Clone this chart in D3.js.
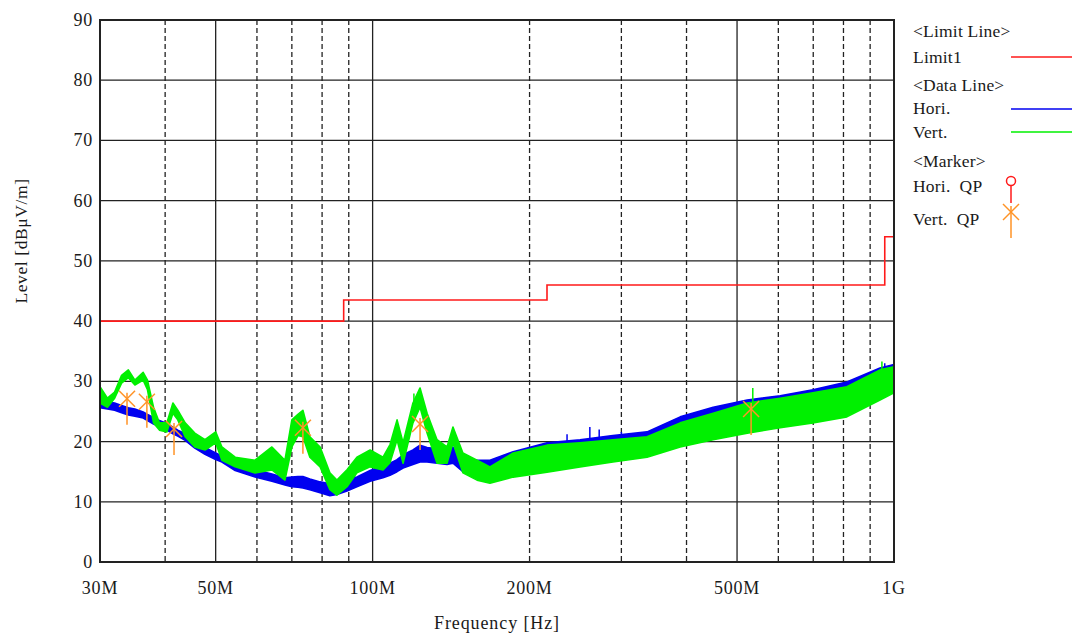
<!DOCTYPE html>
<html><head><meta charset="utf-8">
<script src="https://cdn.jsdelivr.net/npm/d3@7"></script>
<style>body{margin:0;background:#fff}svg{display:block}text{font-family:"Liberation Serif","Times New Roman",serif;fill:#1a1a1a}</style>
</head><body>
<script>
// ---- data (MHz, dBµV/m) ----
const freqs = [30,31,32,33,34,35,36.3,37,38,39,40.3,41.4,42.3,43.7,45.6,47.7,50,51.4,54.5,59.5,64.1,67.9,70,71.9,73.5,75.8,79.3,82.8,85.4,89.3,93.3,98.9,104.7,108,111.4,114.4,119.5,123.3,127.2,132.9,138.9,142.6,149,158.6,167.9,186,216,250,289,336,389,450,523,605,699,812,940,1000];
const horiLo = [25.6,25.4,25.2,24.8,24.4,24.2,23.9,23.5,22.9,22.5,21.9,21.3,20.9,20.2,18.9,17.9,17.0,16.6,15.2,14.1,13.4,12.8,12.5,12.4,12.3,12.0,11.5,11.0,11.2,11.8,12.5,13.4,14.0,14.4,15.0,15.6,16.2,16.6,16.6,16.4,16.2,16.4,15.0,14.1,14.1,15.0,16.0,17.0,18.0,19.0,21.5,23.0,24.5,25.5,26.5,27.5,29.5,30.5];
const horiHi = [26.9,26.6,26.4,26.0,25.6,25.4,24.9,24.5,24.0,23.5,23.0,22.4,21.9,21.3,20.0,19.0,18.1,17.6,16.4,15.3,14.6,14.0,14.1,14.2,14.2,13.8,13.3,13.0,13.4,13.8,14.1,15.2,16.0,16.4,17.0,17.8,18.6,19.4,19.0,18.8,18.6,19.1,17.4,16.9,16.9,18.3,19.8,20.3,21.0,21.6,24.1,25.7,26.9,27.6,28.6,29.9,32.2,32.8];
const vertLo = [26.4,25.7,27.2,29.7,30.6,29.4,30.2,28.6,23.1,21.9,21.6,24.7,23.6,20.8,19.1,18.6,19.8,16.9,15.8,14.8,15.3,13.6,19.1,21.0,20.8,17.4,15.8,12.0,11.1,12.5,14.8,15.8,15.3,16.5,20.3,16.4,23.1,25.7,21.4,16.4,16.4,19.8,14.8,13.6,13.1,14.1,14.9,15.8,16.6,17.4,19.1,20.3,21.4,22.3,23.1,24.1,26.9,28.1];
const vertHi = [29.1,27.2,28.2,31.0,31.9,30.2,31.5,30.2,25.7,23.1,23.1,26.4,25.2,23.1,21.4,20.3,21.6,19.1,17.4,16.9,19.1,16.9,23.6,24.5,25.2,20.8,19.1,14.8,13.6,15.3,17.4,18.6,17.4,19.5,23.6,19.8,26.4,28.9,24.7,20.3,19.1,22.4,18.1,16.9,15.8,18.1,19.4,19.8,20.3,20.8,23.1,24.7,26.4,27.2,28.1,29.1,31.9,32.4];
// isolated spikes [MHz, level]
const horiSpikes = [[261,22.4],[272,22.0],[236,21.2],[300,21.6],[690,27.6],[960,33.0]];
const vertSpikes = [[536,28.9],[948,33.3],[120,28.0]];
// limit line (steps)
const limitFreq = [30,88,88,216,216,960,960,1000];
const limitLevel = [40,40,43.5,43.5,46,46,54,54];
// QP markers (Vert.)
const vertQPf = [33.8,36.9,41.6,73.5,123.3,532];
const vertQPl = [27.1,26.6,22.1,22.3,22.9,25.4];
const yTicks = [0,10,20,30,40,50,60,70,80,90];
const xTickVals = [30,50,100,200,500,1000];
const xTickLabels = ["30M","50M","100M","200M","500M","1G"];
const gridVals = [40,50,60,70,80,90,100,200,300,400,500,600,700,800,900];
const solidGrid = [50,100,500];
const legendRows = [["<Limit Line>",31],["Limit1",57],["<Data Line>",85],["Hori.",108],["Vert.",132],["<Marker>",161],["Hori.  QP",186],["Vert.  QP",219]];

const W=1077,H=635;
const svg=d3.select("body").append("svg").attr("width",W).attr("height",H);
const L=100,R=894,T=20,B=562;
const x=d3.scaleLog().domain([30,1000]).range([L,R]);
const y=d3.scaleLinear().domain([0,90]).range([B,T]);
const orange="#ff9326";

// grid
const g=svg.append("g");
g.selectAll("line.hg").data(yTicks).join("line")
 .attr("x1",L).attr("x2",R).attr("y1",d=>y(d)).attr("y2",d=>y(d))
 .attr("stroke","#222").attr("stroke-width",1.3);
g.selectAll("line.vg").data(gridVals).join("line")
 .attr("x1",d=>x(d)).attr("x2",d=>x(d)).attr("y1",T).attr("y2",B)
 .attr("stroke","#222").attr("stroke-width",1.3)
 .attr("stroke-dasharray",d=>solidGrid.includes(d)?null:"5,3");

// traces as bands
function band(lo,hi,color){
  const data=freqs.map((f,i)=>({f,lo:lo[i],hi:hi[i]}));
  svg.append("path").datum(data)
   .attr("d",d3.area().x(d=>x(d.f)).y0(d=>y(d.lo)).y1(d=>y(d.hi)).curve(d3.curveLinear))
   .attr("fill",color).attr("stroke",color).attr("stroke-width",1.6).attr("stroke-linejoin","round");
}
function spikes(arr,lo,hi,color){
  arr.forEach(([f,l])=>{
    const base=d3.scaleLog().domain(freqs).range(hi)(f);
    svg.append("line").attr("x1",x(f)).attr("x2",x(f)).attr("y1",y(base)).attr("y2",y(l))
      .attr("stroke",color).attr("stroke-width",1.5);
  });
}
const blue="#0000f0", green="#00f000";
band(horiLo,horiHi,blue);
spikes(horiSpikes,horiLo,horiHi,blue);
band(vertLo,vertHi,green);
spikes(vertSpikes,vertLo,vertHi,green);

// limit
svg.append("path").datum(limitFreq.map((f,i)=>[f,limitLevel[i]]))
 .attr("d",d3.line().x(d=>x(d[0])).y(d=>y(d[1])))
 .attr("fill","none").attr("stroke","#ff1a1a").attr("stroke-width",1.6);

// markers
function xMarker(sel,cx,cy){
  const a=8;
  sel.append("line").attr("x1",cx-a).attr("y1",cy-a).attr("x2",cx+a).attr("y2",cy+a);
  sel.append("line").attr("x1",cx-a).attr("y1",cy+a).attr("x2",cx+a).attr("y2",cy-a);
  sel.append("line").attr("x1",cx).attr("y1",cy-6).attr("x2",cx).attr("y2",cy+26);
}
const mg=svg.append("g").attr("stroke",orange).attr("stroke-width",1.5);
vertQPf.forEach((f,i)=>xMarker(mg,x(f),y(vertQPl[i])));

// frame
svg.append("rect").attr("x",L).attr("y",T).attr("width",R-L).attr("height",B-T)
 .attr("fill","none").attr("stroke","#222").attr("stroke-width",2);

// axes labels
const fs=18;
svg.selectAll("text.yt").data(yTicks).join("text")
 .attr("x",L-7).attr("y",d=>y(d)+6).attr("text-anchor","end").attr("font-size",fs).attr("letter-spacing",0.8).text(d=>d);
svg.selectAll("text.xt").data(xTickVals).join("text")
 .attr("x",d=>x(d)).attr("y",594).attr("text-anchor","middle").attr("font-size",fs).attr("letter-spacing",0.8).text((d,i)=>xTickLabels[i]);
svg.append("text").attr("x",(L+R)/2).attr("y",629).attr("text-anchor","middle").attr("font-size",fs).attr("letter-spacing",0.9).text("Frequency [Hz]");
svg.append("text").attr("transform","translate(27,241) rotate(-90)").attr("text-anchor","middle").attr("font-size",17.5).attr("letter-spacing",0.6).text("Level [dBμV/m]");

// legend
svg.selectAll("text.lg").data(legendRows).join("text")
 .attr("x",913).attr("y",d=>d[1]+6).attr("font-size",17.5).attr("letter-spacing",0.2).attr("xml:space","preserve").style("white-space","pre").text(d=>d[0]);
const lgl=[[57,"#ff1a1a"],[109,blue],[132,green]];
lgl.forEach(([yy,c])=>svg.append("line").attr("x1",1011).attr("x2",1072).attr("y1",yy).attr("y2",yy).attr("stroke",c).attr("stroke-width",1.6));
svg.append("circle").attr("cx",1011).attr("cy",181).attr("r",4.5).attr("fill","none").attr("stroke","#ff1a1a").attr("stroke-width",1.5);
svg.append("line").attr("x1",1011).attr("x2",1011).attr("y1",185.5).attr("y2",203).attr("stroke","#ff1a1a").attr("stroke-width",1.5);
const lm=svg.append("g").attr("stroke",orange).attr("stroke-width",1.5);
xMarker(lm,1011,212);
</script>
</body></html>
